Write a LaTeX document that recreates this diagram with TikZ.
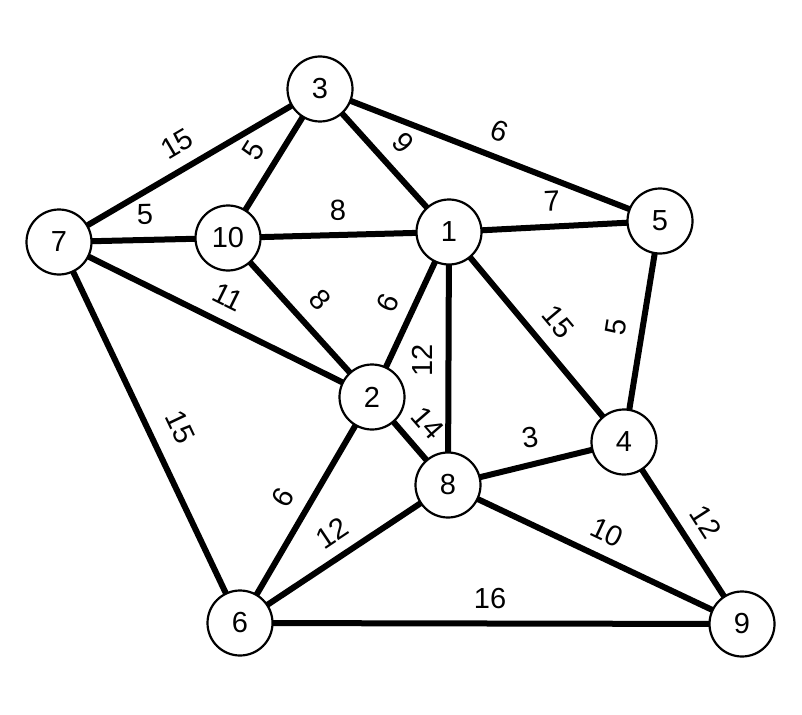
\documentclass[tikz,border=0pt]{standalone}
\usepackage{fontspec}
\setmainfont{Liberation Sans}
\begin{document}
\begin{tikzpicture}[x=1pt,y=-1pt,
  vert/.style={circle,draw=black,line width=2.2pt,fill=white,minimum size=65pt,inner sep=0pt,font=\fontsize{29}{32}\selectfont},
  edge/.style={line width=6pt,black},
  wlabel/.style={inner sep=0pt,font=\fontsize{29}{32}\selectfont}]
\useasboundingbox (0,0) rectangle (802,714);
\fill[white] (0,0) rectangle (802,714);
% vertex positions
\coordinate (p3) at (320,89);
\coordinate (p7) at (59,242);
\coordinate (p10) at (228,238);
\coordinate (p1) at (449,232);
\coordinate (p5) at (660,221);
\coordinate (p2) at (372,397);
\coordinate (p8) at (448,485);
\coordinate (p4) at (624,442);
\coordinate (p6) at (240,623);
\coordinate (p9) at (742,624);
% edges
\draw[edge] (p3) -- (p7);
\draw[edge] (p3) -- (p10);
\draw[edge] (p3) -- (p1);
\draw[edge] (p3) -- (p5);
\draw[edge] (p7) -- (p10);
\draw[edge] (p10) -- (p1);
\draw[edge] (p1) -- (p5);
\draw[edge] (p7) -- (p2);
\draw[edge] (p10) -- (p2);
\draw[edge] (p1) -- (p2);
\draw[edge] (p1) -- (p8);
\draw[edge] (p1) -- (p4);
\draw[edge] (p5) -- (p4);
\draw[edge] (p2) -- (p8);
\draw[edge] (p8) -- (p4);
\draw[edge] (p7) -- (p6);
\draw[edge] (p2) -- (p6);
\draw[edge] (p8) -- (p6);
\draw[edge] (p8) -- (p9);
\draw[edge] (p4) -- (p9);
\draw[edge] (p6) -- (p9);
% vertex nodes
\node[vert] (n3) at (p3) {3};
\node[vert] (n7) at (p7) {7};
\node[vert] (n10) at (p10) {10};
\node[vert] (n1) at (p1) {1};
\node[vert] (n5) at (p5) {5};
\node[vert] (n2) at (p2) {2};
\node[vert] (n8) at (p8) {8};
\node[vert] (n4) at (p4) {4};
\node[vert] (n6) at (p6) {6};
\node[vert] (n9) at (p9) {9};
% weights
\node[wlabel,rotate=30.4] (w37) at (177,144) {15};
\node[wlabel,rotate=58] (w310) at (253,150) {5};
\node[wlabel,rotate=-48] (w31) at (403,143) {9};
\node[wlabel,rotate=-21] (w35) at (500,131) {6};
\node[wlabel,rotate=3] (w15) at (552,201) {7};
\node[wlabel,rotate=1.4] (w710) at (145,214) {5};
\node[wlabel,rotate=1.6] (w101) at (338,210) {8};
\node[wlabel,rotate=-26.3] (w72) at (228,297) {11};
\node[wlabel,rotate=-47.8] (w102) at (320,300) {8};
\node[wlabel,rotate=65] (w12) at (388,303) {6};
\node[wlabel,rotate=90] (w18) at (422,360) {12};
\node[wlabel,rotate=-49] (w28) at (428,423) {14};
\node[wlabel,rotate=-50] (w14) at (558,322) {15};
\node[wlabel,rotate=81] (w54) at (616,327) {5};
\node[wlabel,rotate=8] (w84) at (530,437) {3};
\node[wlabel,rotate=-64.6] (w76) at (180,427) {15};
\node[wlabel,rotate=59.8] (w26) at (283,498) {6};
\node[wlabel,rotate=33.7] (w86) at (332,533) {12};
\node[wlabel,rotate=-25.3] (w89) at (607,532) {10};
\node[wlabel,rotate=-57.3] (w49) at (706,522) {12};
\node[wlabel] (w69) at (490,599) {16};
\end{tikzpicture}
\end{document}
